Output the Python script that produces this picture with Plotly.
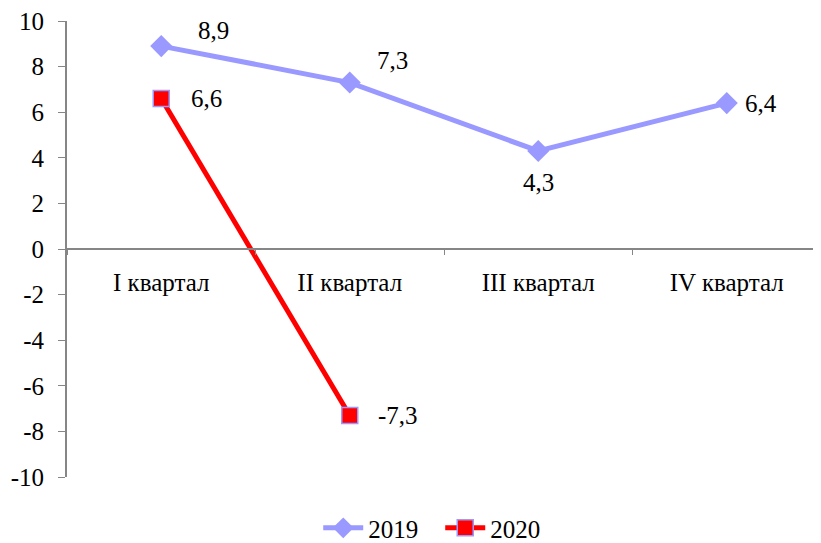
import plotly.graph_objects as go

categories = ["I квартал", "II квартал", "III квартал", "IV квартал"]
values_2019 = [8.9, 7.3, 4.3, 6.4]
values_2020 = [6.6, -7.3]
labels_2019 = ["8,9", "7,3", "4,3", "6,4"]
labels_2020 = ["6,6", "-7,3"]
y_ticks = [-10, -8, -6, -4, -2, 0, 2, 4, 6, 8, 10]

FONT = "Liberation Serif, Times New Roman, serif"
FS = 25
AX = "#868686"

fig = go.Figure()
fig.add_trace(go.Scatter(
    x=categories, y=values_2019, name="2019", mode="lines+markers",
    line=dict(color="#9999FF", width=5),
    marker=dict(symbol="diamond", size=17, color="#9999FF"),
))
fig.add_trace(go.Scatter(
    x=categories[:len(values_2020)], y=values_2020, name="2020", mode="lines+markers",
    line=dict(color="#FF0000", width=5),
    marker=dict(symbol="square", size=16, color="#FF0000",
                line=dict(color="#9999FF", width=1.5)),
))

shifts_2019 = [(52, 16), (43, 22), (0, -32), (34, 0)]
shifts_2020 = [(45, 0), (48, 0)]
for c, v, t, (dx, dy) in zip(categories, values_2019, labels_2019, shifts_2019):
    fig.add_annotation(x=c, y=v, text=t, showarrow=False, xshift=dx, yshift=dy,
                       font=dict(family=FONT, size=FS, color="black"))
for c, v, t, (dx, dy) in zip(categories, values_2020, labels_2020, shifts_2020):
    fig.add_annotation(x=c, y=v, text=t, showarrow=False, xshift=dx, yshift=dy,
                       font=dict(family=FONT, size=FS, color="black"))

fig.update_layout(
    width=813, height=535,
    margin=dict(l=59, r=0, t=13, b=66, autoexpand=False),
    paper_bgcolor="white", plot_bgcolor="white",
    font=dict(family=FONT, size=FS, color="black"),
    showlegend=True,
    legend=dict(orientation="h", x=0.495, xanchor="center", y=-0.112, yanchor="middle",
                font=dict(family=FONT, size=FS, color="black"), itemwidth=40,
                entrywidth=67, entrywidthmode="pixels",
                traceorder="normal"),
    xaxis=dict(
        type="category", range=[-0.5, 3.5], anchor="free", position=0.5,
        showline=True, linecolor=AX, linewidth=2, showgrid=False, zeroline=False,
        ticks="outside", tickson="boundaries", ticklen=5, tickcolor=AX,
        ticklabelstandoff=11, automargin=False, ticklabeloverflow="allow",
        tickfont=dict(family=FONT, size=FS, color="black"),
    ),
    yaxis=dict(
        range=[-10, 10], tickvals=y_ticks, ticktext=[str(v) for v in y_ticks],
        showline=True, linecolor=AX, linewidth=2, showgrid=False, zeroline=False,
        ticks="outside", ticklen=7, tickcolor=AX,
        ticklabelstandoff=9, automargin=False, ticklabeloverflow="allow",
        tickfont=dict(family=FONT, size=FS, color="black"),
    ),
)

fig.write_html("out.html")
